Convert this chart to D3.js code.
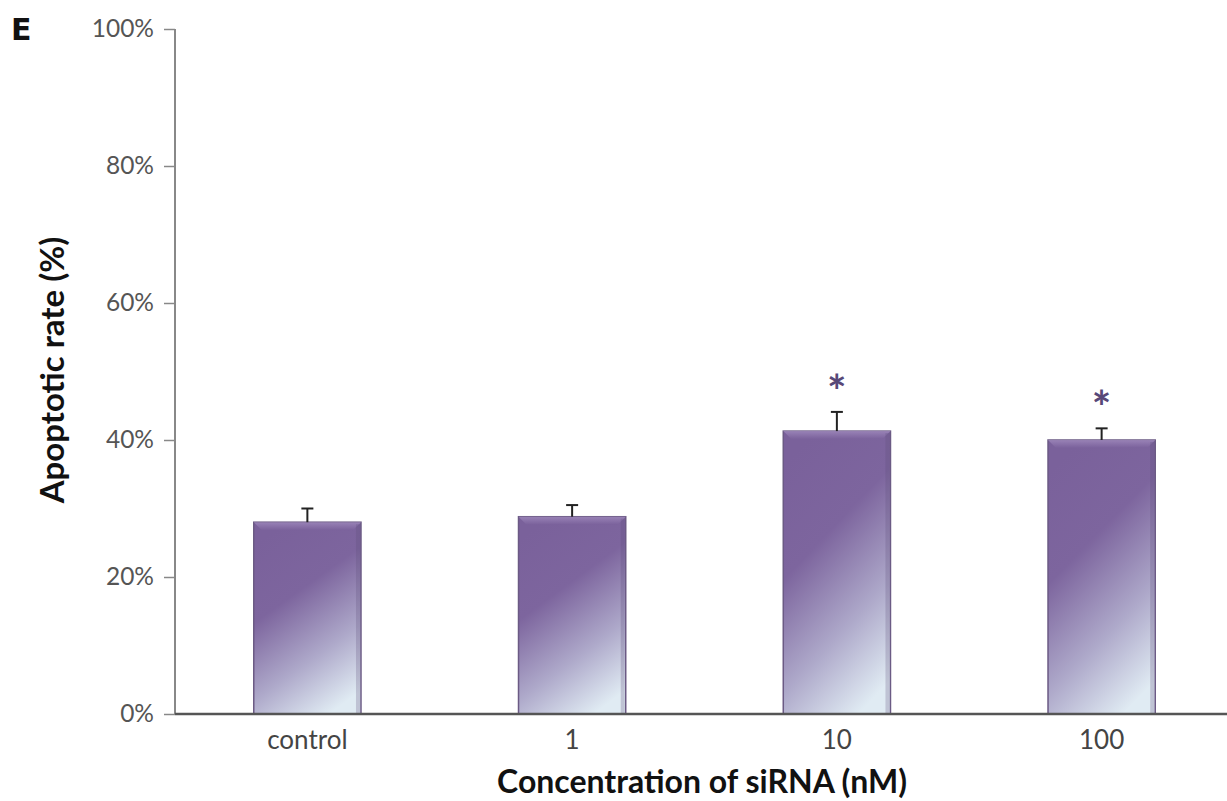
<!DOCTYPE html>
<html>
<head>
<meta charset="utf-8">
<script src="https://cdn.jsdelivr.net/npm/d3@7"></script>
<style>
  body { margin: 0; background: #fff; }
  svg { display: block; font-family: Lato, "Open Sans", sans-serif; }
</style>
</head>
<body>
<svg id="chart" width="1227" height="801"></svg>
<script>
// Data
const categories = ["control", "1", "10", "100"];
const rates = [28.0, 28.8, 41.3, 40.0];
const errors = [2.0, 1.7, 2.8, 1.7];
const significant = [false, false, true, true];
const yTicks = [0, 20, 40, 60, 80, 100];

const width = 1227, height = 801;
const svg = d3.select("#chart");

// Scales
const x = d3.scaleBand()
    .domain(categories)
    .range([175, 1234])
    .paddingInner(0.595)
    .paddingOuter(0.2975);
const y = d3.scaleLinear().domain([0, 100]).range([714, 29]);

// Gradient for bars
const defs = svg.append("defs");
const grad = defs.append("linearGradient")
    .attr("id", "barGrad")
    .attr("x1", 0.3).attr("y1", 0).attr("x2", 0.7).attr("y2", 1);
grad.append("stop").attr("offset", "0%").attr("stop-color", "#7a619b");
grad.append("stop").attr("offset", "35%").attr("stop-color", "#7d659e");
grad.append("stop").attr("offset", "70%").attr("stop-color", "#aea9ca");
grad.append("stop").attr("offset", "100%").attr("stop-color", "#e0ebf3");

const bevel = defs.append("linearGradient")
    .attr("id", "bevelGrad")
    .attr("x1", 0).attr("y1", 0).attr("x2", 0).attr("y2", 1);
bevel.append("stop").attr("offset", "0%").attr("stop-color", "#a08abd");
bevel.append("stop").attr("offset", "100%").attr("stop-color", "#7a619b");

// Y axis
const yAxis = svg.append("g")
    .attr("transform", "translate(175,0)")
    .call(d3.axisLeft(y).tickValues(yTicks).tickSize(11).tickPadding(10)
        .tickFormat(d => d + "%"));
yAxis.select(".domain").attr("stroke", "#888").attr("stroke-width", 2)
    .attr("d", `M0,${y(100)}H0V${y(0)}`);
yAxis.selectAll(".tick line").attr("stroke", "#888").attr("stroke-width", 1.5);
yAxis.selectAll(".tick text")
    .attr("fill", "#555")
    .style("font-size", "24.5px")
    .style("font-family", "Lato, 'Open Sans', sans-serif");

// Bars
const bw = x.bandwidth();
const bars = svg.append("g").selectAll("g.bar")
    .data(categories)
    .join("g")
    .attr("class", "bar");

bars.append("rect")
    .attr("x", d => x(d))
    .attr("y", (d, i) => y(rates[i]))
    .attr("width", bw)
    .attr("height", (d, i) => y(0) - y(rates[i]))
    .attr("fill", "url(#barGrad)")
    .attr("stroke", "#6b5a84")
    .attr("stroke-width", 1.5);

// top bevel strip
bars.append("path")
    .attr("d", (d, i) => {
        const x0 = x(d), x1 = x(d) + bw, t = y(rates[i]);
        return `M${x0},${t}L${x1},${t}L${x1 - 8},${t + 8}L${x0 + 8},${t + 8}Z`;
    })
    .attr("fill", "url(#bevelGrad)")
    .attr("opacity", 0.8);

// side shading
bars.append("rect")
    .attr("x", d => x(d) + bw - 5)
    .attr("y", (d, i) => y(rates[i]) + 2)
    .attr("width", 4)
    .attr("height", (d, i) => y(0) - y(rates[i]) - 3)
    .attr("fill", "#5d4d78")
    .attr("opacity", 0.25);

// X axis line
svg.append("line")
    .attr("x1", 175).attr("x2", width)
    .attr("y1", y(0)).attr("y2", y(0))
    .attr("stroke", "#555").attr("stroke-width", 2.5);

// Error bars
const eb = svg.append("g").attr("stroke", "#222").attr("stroke-width", 2);
eb.selectAll("line.v")
    .data(categories)
    .join("line")
    .attr("x1", d => x(d) + bw / 2).attr("x2", d => x(d) + bw / 2)
    .attr("y1", (d, i) => y(rates[i]))
    .attr("y2", (d, i) => y(rates[i] + errors[i]));
eb.selectAll("line.cap")
    .data(categories)
    .join("line")
    .attr("x1", d => x(d) + bw / 2 - 6).attr("x2", d => x(d) + bw / 2 + 6)
    .attr("y1", (d, i) => y(rates[i] + errors[i]))
    .attr("y2", (d, i) => y(rates[i] + errors[i]));

// Significance asterisks
svg.append("g").selectAll("text")
    .data(categories.filter((d, i) => significant[i]))
    .join("text")
    .attr("x", d => x(d) + bw / 2)
    .attr("y", d => y(rates[categories.indexOf(d)] + errors[categories.indexOf(d)]) - 4)
    .attr("text-anchor", "middle")
    .attr("fill", "#574878")
    .style("font-size", "46px")
    .style("font-weight", "bold")
    .text("*");

// Category labels
svg.append("g").selectAll("text")
    .data(categories)
    .join("text")
    .attr("x", d => x(d) + bw / 2)
    .attr("y", 749)
    .attr("text-anchor", "middle")
    .attr("fill", "#444")
    .style("font-size", "26px")
    .text(d => d);

// Axis titles
svg.append("text")
    .attr("x", 702).attr("y", 793)
    .attr("text-anchor", "middle")
    .attr("fill", "#111")
    .style("font-size", "32px")
    .style("font-weight", "bold")
    .text("Concentration of siRNA (nM)");

svg.append("text")
    .attr("transform", "translate(64,370) rotate(-90)")
    .attr("text-anchor", "middle")
    .attr("fill", "#111")
    .style("font-size", "33px")
    .style("font-weight", "bold")
    .text("Apoptotic rate (%)");

// Panel letter
svg.append("text")
    .attr("x", 11).attr("y", 40)
    .attr("fill", "#111")
    .style("font-size", "30px")
    .style("font-weight", "bold")
    .style("font-family", "'DejaVu Sans', sans-serif")
    .text("E");
</script>
</body>
</html>
